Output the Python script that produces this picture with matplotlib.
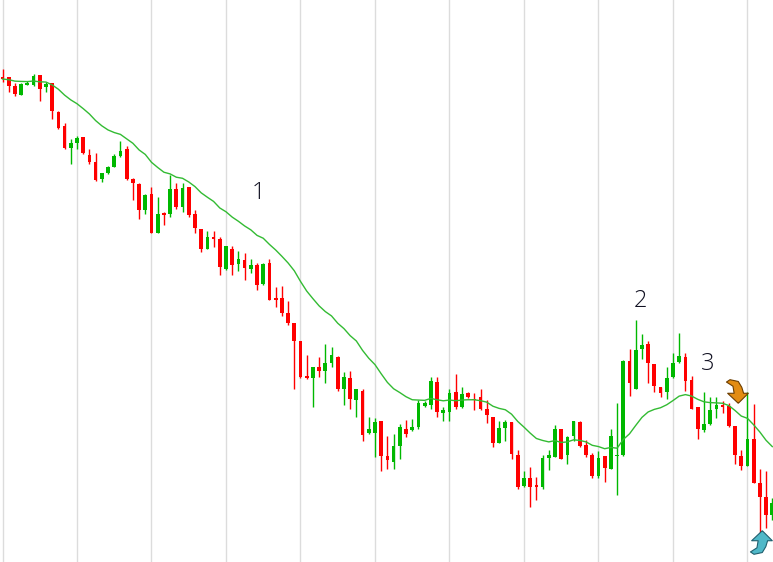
import numpy as np
import pandas as pd
import matplotlib
matplotlib.use('Agg')
import matplotlib.pyplot as plt
from matplotlib.path import Path

# OHLC (arbitrary price units)
opens = [523, 523, 514, 505, 515, 515, 525, 513, 517, 488, 474, 452, 457, 463, 445, 438,
         421, 427, 433, 444, 451, 421, 416, 390, 406, 367, 387, 386, 411, 393, 413, 386,
         371, 351, 363, 361, 331, 351, 336, 340, 331, 335, 316, 337, 302, 302, 287, 277,
         259, 224, 222, 233, 229, 237, 243, 211, 222, 200, 209, 167, 167, 179, 144, 138,
         154, 171, 170, 173, 194, 195, 218, 187, 188, 208, 193, 207, 201, 203, 191, 183,
         157, 172, 178, 145, 114, 122, 115, 113, 142, 143, 171, 145, 164, 178, 155, 145,
         124, 144, 131, 144, 145, 239, 211, 251, 256, 236, 213, 208, 223, 238, 243, 220,
         193, 170, 176, 191, 195, 194, 174, 144, 134, 161, 117, 103, 85]
highs = [531, 523, 517, 517, 519, 526, 525, 518, 517, 489, 477, 461, 464, 463, 451, 447,
         427, 434, 446, 459, 454, 422, 417, 406, 413, 403, 388, 425, 417, 417, 413, 390,
         371, 369, 369, 363, 354, 354, 349, 347, 341, 337, 337, 341, 313, 314, 299, 277,
         259, 245, 233, 243, 256, 253, 244, 228, 229, 211, 211, 183, 182, 179, 164, 166,
         176, 180, 181, 200, 199, 223, 223, 193, 211, 226, 213, 208, 207, 211, 200, 183,
         179, 180, 178, 150, 129, 133, 123, 145, 150, 175, 171, 164, 179, 179, 160, 147,
         149, 144, 171, 197, 240, 251, 280, 266, 259, 236, 213, 233, 247, 267, 247, 224,
         193, 208, 203, 203, 199, 197, 174, 150, 208, 196, 131, 129, 102]
lows = [518, 508, 504, 505, 515, 514, 499, 508, 481, 471, 451, 436, 451, 446, 436, 419,
        418, 426, 433, 443, 420, 400, 381, 386, 367, 367, 375, 383, 391, 388, 383, 367,
        348, 351, 353, 325, 330, 325, 329, 320, 327, 310, 315, 300, 293, 284, 275, 211,
        222, 221, 193, 223, 217, 233, 209, 195, 191, 183, 159, 166, 143, 129, 131, 131,
        141, 163, 169, 171, 193, 191, 183, 179, 179, 191, 192, 202, 190, 190, 177, 153,
        157, 159, 141, 111, 113, 93, 100, 111, 130, 143, 141, 136, 159, 153, 143, 122,
        122, 118, 131, 105, 144, 204, 211, 241, 217, 208, 203, 201, 222, 237, 209, 191,
        161, 168, 175, 182, 187, 173, 136, 130, 134, 117, 49, 72, 80]
closes = [521, 514, 506, 516, 517, 524, 511, 516, 489, 472, 452, 457, 462, 447, 438, 420,
          427, 433, 444, 449, 421, 417, 390, 405, 367, 386, 385, 411, 393, 412, 385, 372,
          351, 363, 361, 333, 354, 335, 341, 332, 335, 315, 336, 300, 300, 287, 277, 259,
          223, 222, 233, 229, 237, 245, 211, 223, 201, 211, 165, 171, 178, 144, 140, 154,
          173, 166, 173, 197, 197, 219, 188, 190, 207, 193, 206, 203, 200, 191, 185, 157,
          172, 178, 146, 113, 122, 113, 113, 142, 145, 171, 141, 163, 179, 154, 145, 124,
          142, 132, 164, 145, 239, 217, 250, 255, 237, 214, 207, 222, 237, 244, 219, 191,
          171, 176, 190, 195, 193, 174, 145, 134, 161, 117, 103, 85, 97]

# text labels and signal arrows (candle index, price)
labels = ['1', '2', '3']
label_idx = [41.3, 102.8, 113.6]
label_px = [407, 299, 236.5]
sell_idx, sell_px = [118.1], [209]
buy_idx, buy_px = [122.0], [58]

df = pd.DataFrame({'open': opens, 'high': highs, 'low': lows, 'close': closes})
# exponential moving average of closes, period 19
df['ma'] = df['close'].ewm(span=19, adjust=False).mean()
x = np.arange(len(df))

up_col = '#00b800'
dn_col = '#ff0000'
colors = [up_col if c >= o else dn_col for o, c in zip(df['open'], df['close'])]

fig = plt.figure(figsize=(7.73, 5.62), dpi=100, facecolor='white')
ax = fig.add_axes([0, 0, 1, 1])
ax.set_facecolor('white')

# vertical grid every 12 candles
for gx in range(0, len(df), 12):
    ax.axvline(gx, color='#dcdcdc', lw=1, zorder=0)

ax.vlines(x, df['low'], df['high'], colors=colors, lw=1, zorder=2)
body_lo = np.minimum(df['open'], df['close'])
body_h = np.maximum(np.abs(df['close'] - df['open']), 1.2)
ax.bar(x, body_h, bottom=body_lo, width=0.6, color=colors, lw=0, zorder=3)

ax.plot(x, df['ma'], color='#33bb33', lw=1, zorder=4)

for t, i, p in zip(labels, label_idx, label_px):
    ax.text(i, p, t, fontsize=17, family='Open Sans', fontweight='light',
            color='#111122', ha='center', va='center', zorder=5)

# curved arrow marker (pointing down)
arrow_dn = Path([(0.15, -1.0), (-0.75, -0.15), (-0.2, -0.15), (-0.3, 0.45),
                 (-0.85, 0.8), (-0.55, 1.0), (0.15, 0.85), (0.45, 0.35),
                 (0.6, -0.15), (1.0, -0.15), (0.15, -1.0)])
arrow_up = Path([(vx, -vy) for vx, vy in arrow_dn.vertices])

ax.plot(sell_idx, sell_px, marker=arrow_dn, markersize=17, color='#e38c12',
        markeredgecolor='#6b3d00', markeredgewidth=0.8, ls='none', zorder=6)
ax.plot(buy_idx, buy_px, marker=arrow_up, markersize=17, color='#4fb8c8',
        markeredgecolor='#1f5f6e', markeredgewidth=0.8, ls='none', zorder=6)

ax.set_xlim(-0.403, 124.115)
ax.set_ylim(38, 600)
ax.axis('off')

plt.savefig('out.png', dpi=100, facecolor='white')
